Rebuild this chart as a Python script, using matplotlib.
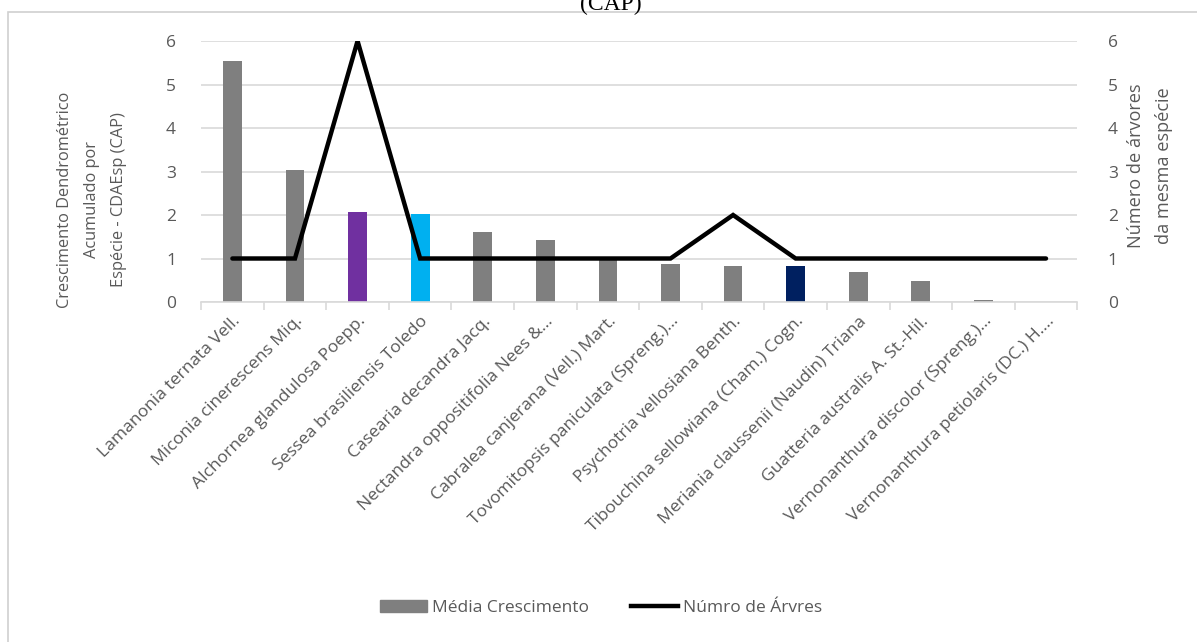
import numpy as np
import matplotlib.pyplot as plt
from matplotlib.patches import Rectangle

especies = [
    "Lamanonia ternata Vell.",
    "Miconia cinerescens Miq.",
    "Alchornea glandulosa Poepp.",
    "Sessea brasiliensis Toledo",
    "Casearia decandra Jacq.",
    "Nectandra oppositifolia Nees &...",
    "Cabralea canjerana (Vell.) Mart.",
    "Tovomitopsis paniculata (Spreng.)...",
    "Psychotria vellosiana Benth.",
    "Tibouchina sellowiana (Cham.) Cogn.",
    "Meriania claussenii (Naudin) Triana",
    "Guatteria australis A. St.-Hil.",
    "Vernonanthura discolor (Spreng.)...",
    "Vernonanthura petiolaris (DC.) H....",
]
media_crescimento = [5.54, 3.03, 2.07, 2.03, 1.61, 1.43, 0.97, 0.87, 0.83, 0.83, 0.70, 0.48, 0.05, 0.0]
num_arvores = [1, 1, 6, 1, 1, 1, 1, 1, 2, 1, 1, 1, 1, 1]
cores = ["#7f7f7f", "#7f7f7f", "#7030a0", "#00b0f0", "#7f7f7f", "#7f7f7f", "#7f7f7f",
         "#7f7f7f", "#7f7f7f", "#002060", "#7f7f7f", "#7f7f7f", "#7f7f7f", "#7f7f7f"]

plt.rcParams['font.family'] = ['Open Sans', 'DejaVu Sans']
txt = "#595959"
grid = "#d9d9d9"

W, H = 1197, 642
fig = plt.figure(figsize=(W / 100, H / 100), dpi=100)
ax = fig.add_axes([0.168, 0.5296, 0.732, 0.4065])
x = np.arange(len(especies))

ax.bar(x, media_crescimento, width=0.3, color=cores, zorder=2)
ax.set_xlim(-0.5, len(especies) - 0.5)
ax.set_ylim(0, 6)
ax.set_yticks(range(7))
ax.yaxis.grid(True, color=grid, lw=1.2, zorder=0)
ax.set_axisbelow(True)
for s in ['top', 'right', 'left']:
    ax.spines[s].set_visible(False)
ax.spines['bottom'].set_color(grid)
ax.spines['bottom'].set_linewidth(1.2)
ax.tick_params(axis='y', length=0, labelsize=12.5, labelcolor=txt, pad=18)
ax.set_xticks(x)
ax.set_xticklabels(especies, rotation=45, ha='right', rotation_mode='anchor',
                   fontsize=12.6, color=txt)
ax.tick_params(axis='x', which='major', length=0, pad=8)
ax.set_xticks(np.arange(-0.5, len(especies)), minor=True)
ax.tick_params(axis='x', which='minor', length=6, color=grid, width=1.2)

ax2 = ax.twinx()
ax2.plot(x, num_arvores, color='black', lw=3.2, solid_capstyle='round',
         solid_joinstyle='miter', zorder=3)
ax2.set_ylim(0, 6)
ax2.set_yticks(range(7))
for s in ax2.spines.values():
    s.set_visible(False)
ax2.tick_params(axis='y', length=0, labelsize=12.5, labelcolor=txt, pad=22)

# títulos dos eixos
fig.text(92 / W, 1 - 200 / H, "Crescimento Dendrométrico\nAcumulado por\nEspécie - CDAEsp (CAP)",
         rotation=90, ha='center', va='center', multialignment='center',
         fontsize=11.8, color=txt, linespacing=1.95)
fig.text(1150 / W, 1 - 166 / H, "Número de árvores\nda mesma espécie",
         rotation=90, ha='center', va='center', multialignment='center',
         fontsize=13.1, color=txt, linespacing=1.7)

h1 = Rectangle((0, 0), 1, 1, color="#7f7f7f")
h2 = plt.Line2D([], [], color='black', lw=3.2)
fig.legend([h1, h2], ["Média Crescimento", "Númro de Árvres"], loc='center',
           bbox_to_anchor=(0.502, 0.053), ncol=2, frameon=False, fontsize=12.5,
           labelcolor=txt, handlelength=2.7, columnspacing=2.4, handletextpad=0.3)

# moldura do gráfico
fig.add_artist(Rectangle((8 / W, -0.01), 1.0, 1 - 12 / H + 0.01,
                         transform=fig.transFigure, fill=False, ec="#d0d0d0", lw=1.2))
fig.text(0.51, 1.0 - 10 / H, "(CAP)", family='Liberation Serif', fontsize=17,
         ha='center', va='baseline', color='black')

fig.savefig("out.png", dpi=100)
